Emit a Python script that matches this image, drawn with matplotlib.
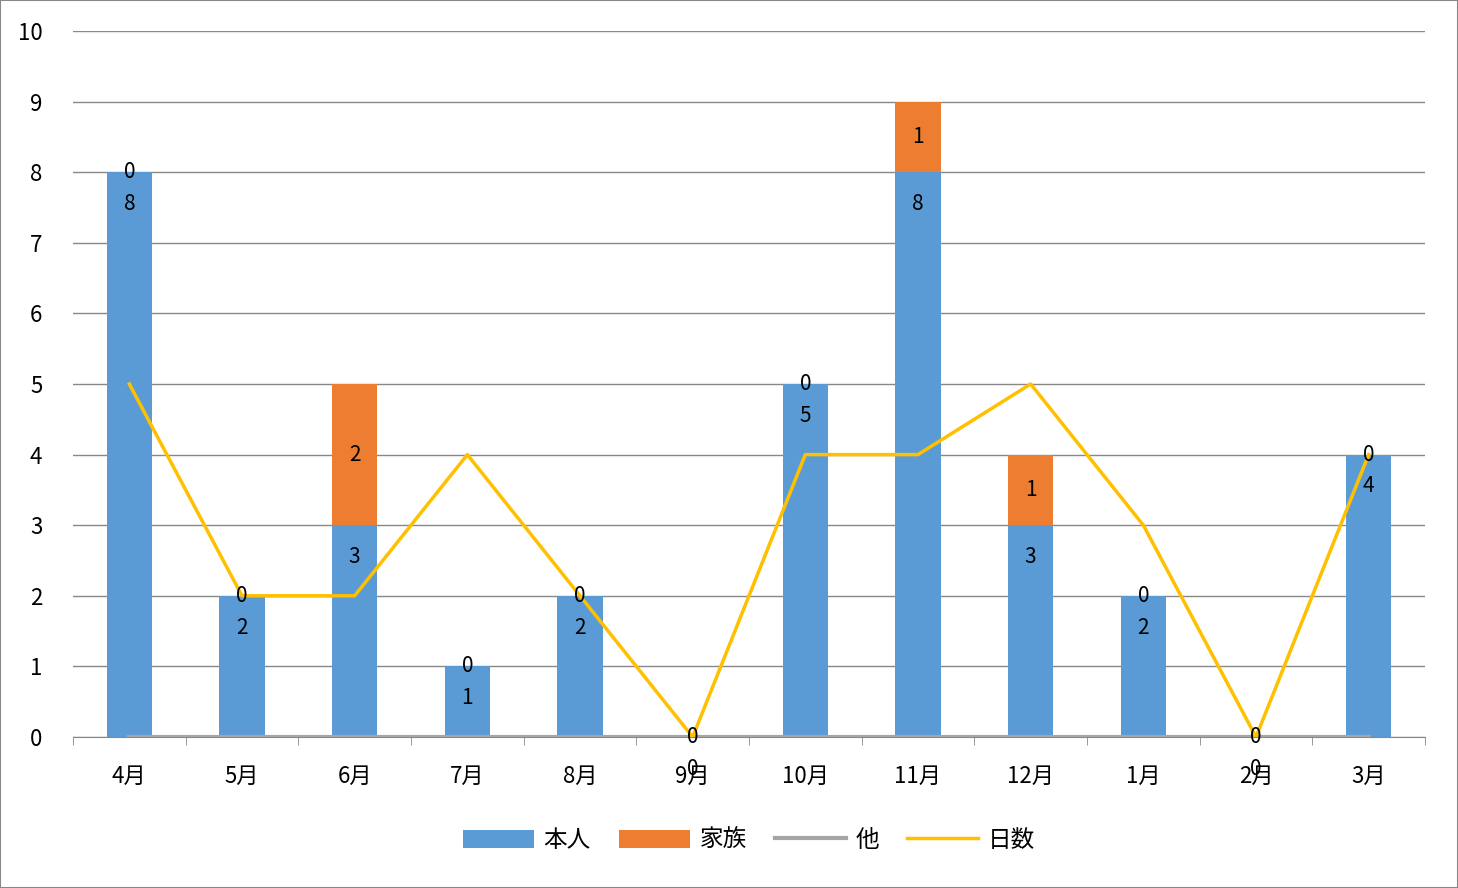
import numpy as np
import matplotlib.pyplot as plt
from matplotlib.patches import Rectangle

plt.rcParams['font.family'] = ['Noto Sans CJK JP']

months = ['4月', '5月', '6月', '7月', '8月', '9月', '10月', '11月', '12月', '1月', '2月', '3月']
honnin = [8, 2, 3, 1, 2, 0, 5, 8, 3, 2, 0, 4]
kazoku = [0, 0, 2, 0, 0, 0, 0, 1, 1, 0, 0, 0]
hoka = [0, 0, 0, 0, 0, 0, 0, 0, 0, 0, 0, 0]
nissu = [5, 2, 2, 4, 2, 0, 4, 4, 5, 3, 0, 4]

blue = '#5b9bd5'
orange = '#ed7d31'
gray = '#a5a5a5'
yellow = '#ffc000'

fig = plt.figure(figsize=(14.58, 8.88), dpi=100)
ax = fig.add_axes([73/1458, 1 - 737/888, (1425-73)/1458, (737-31)/888])
fig.patches.append(Rectangle((0, 0), 1, 1, transform=fig.transFigure, fill=False,
                             edgecolor='#888888', lw=1.5))

x = np.arange(len(months))
b1 = ax.bar(x, honnin, width=0.4, color=blue, label='本人', zorder=2)
b2 = ax.bar(x, kazoku, width=0.4, bottom=honnin, color=orange, label='家族', zorder=2)
l1, = ax.plot(x, hoka, color=gray, lw=3, label='他', zorder=3)
l2, = ax.plot(x, nissu, color=yellow, lw=2.5, label='日数', zorder=4)

for i in x:
    h, k = honnin[i], kazoku[i]
    ax.text(i, h - 0.45, str(h), ha='center', va='center', fontsize=15, zorder=5)
    ax.text(i, h + k / 2, str(k), ha='center', va='center', fontsize=15, zorder=5)

ax.set_xlim(-0.5, len(months) - 0.5)
ax.set_ylim(0, 10)
ax.set_yticks(range(11))
ax.set_xticks(x)
ax.set_xticklabels(months, fontsize=16)
ax.tick_params(axis='y', labelsize=16, length=0, pad=22)
ax.set_xticks(np.arange(-0.5, len(months)), minor=True)
ax.tick_params(axis='x', which='major', length=0, pad=20)
ax.tick_params(axis='x', which='minor', length=6, color='#888888')
ax.grid(axis='y', color='#888888', lw=1, zorder=0)
for s in ['top', 'right', 'left']:
    ax.spines[s].set_visible(False)
ax.spines['bottom'].set_color('#888888')

ax.legend([b1, b2, l1, l2], ['本人', '家族', '他', '日数'],
          loc='upper center', bbox_to_anchor=(0.5, -0.1), ncol=4, frameon=False,
          fontsize=17, handlelength=3.0, handleheight=0.8, columnspacing=1.2, handletextpad=0.4)

fig.savefig('out.png', dpi=100)
